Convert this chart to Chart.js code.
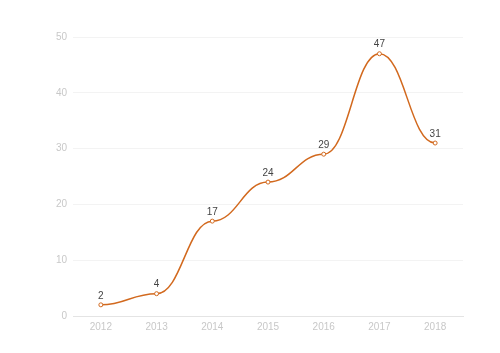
<!DOCTYPE html>
<html>
<head>
<meta charset="utf-8">
<script src="https://cdn.jsdelivr.net/npm/chart.js@4/dist/chart.umd.min.js"></script>
<style>
  html, body { margin: 0; padding: 0; background: #ffffff; }
  #wrap { width: 500px; height: 353px; }
</style>
</head>
<body>
<div id="wrap"><canvas id="c" width="500" height="353"></canvas></div>
<script>
const categories = ['2012', '2013', '2014', '2015', '2016', '2017', '2018'];
const values = [2, 4, 17, 24, 29, 47, 31];
const yTicks = [0, 10, 20, 30, 40, 50];

const lineColor = '#d2691e';
const FONT = 'Liberation Sans, Arial, sans-serif';

// Horizontal-tangent smoothing (like the reference's smooth line)
const flatSmooth = {
  id: 'flatSmooth',
  beforeDatasetDraw(chart, args) {
    const meta = args.meta;
    const line = meta.dataset;
    if (!line) return;
    line.updateControlPoints(chart.chartArea, 'x');
    const pts = meta.data;
    const k = 0.45;
    for (let i = 0; i < pts.length; i++) {
      const p = pts[i];
      const prev = pts[i - 1], next = pts[i + 1];
      const dPrev = prev ? (p.x - prev.x) : 0;
      const dNext = next ? (next.x - p.x) : 0;
      p.cp1x = p.x - dPrev * k; p.cp1y = p.y;
      p.cp2x = p.x + dNext * k; p.cp2y = p.y;
    }
  }
};

const valueLabels = {
  id: 'valueLabels',
  afterDatasetsDraw(chart) {
    const ctx = chart.ctx;
    const meta = chart.getDatasetMeta(0);
    ctx.save();
    ctx.font = '10px ' + FONT;
    ctx.fillStyle = '#444444';
    ctx.textAlign = 'center';
    ctx.textBaseline = 'bottom';
    meta.data.forEach((pt, i) => {
      ctx.fillText(String(values[i]), pt.x, pt.y - 4);
    });
    ctx.restore();
  }
};

new Chart(document.getElementById('c'), {
  type: 'line',
  data: {
    labels: categories,
    datasets: [{
      data: values,
      borderColor: lineColor,
      borderWidth: 1.5,
      tension: 0.4,
      pointRadius: 2,
      pointBorderWidth: 1,
      pointBackgroundColor: '#ffffff',
      pointBorderColor: lineColor,
      fill: false
    }]
  },
  options: {
    responsive: false,
    animation: false,
    layout: { padding: { top: 37, right: 37, bottom: 0, left: 0 } },
    plugins: { legend: { display: false }, tooltip: { enabled: false } },
    scales: {
      x: {
        type: 'category',
        offset: true,
        grid: { display: false, drawTicks: false },
        border: { display: true, color: '#e4e4e4', width: 1 },
        ticks: { color: '#c8c8c8', font: { family: FONT, size: 10 }, padding: 5, maxRotation: 0 },
        afterFit(scale) { scale.height = 37; }
      },
      y: {
        min: 0, max: 50,
        afterBuildTicks(scale) { scale.ticks = yTicks.map(v => ({ value: v })); },
        grid: { color: '#f3f3f3', drawTicks: false },
        border: { display: false },
        ticks: { color: '#c8c8c8', font: { family: FONT, size: 10 }, padding: 6 },
        afterFit(scale) { scale.width = 73; }
      }
    }
  },
  plugins: [flatSmooth, valueLabels]
});
</script>
</body>
</html>
